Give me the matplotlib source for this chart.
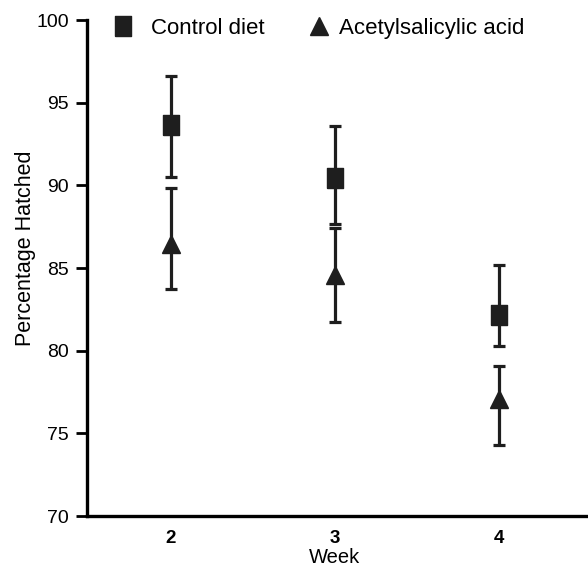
import matplotlib
matplotlib.use("Agg")
import matplotlib.pyplot as plt

plt.rcParams['font.family'] = ['Liberation Sans', 'DejaVu Sans']

# hatch rate by week, mean with lower/upper error
weeks = [2, 3, 4]
control_mean = [93.65, 90.44, 82.18]
control_err_lo = [3.13, 2.80, 1.88]
control_err_hi = [2.98, 3.15, 3.00]
asa_mean = [86.46, 84.57, 77.07]
asa_err_lo = [2.75, 2.82, 2.78]
asa_err_hi = [3.36, 2.83, 2.02]

ink = '#1e1e1e'
rect = [(-0.8, -1), (0.8, -1), (0.8, 1), (-0.8, 1), (-0.8, -1)]

fig = plt.figure(figsize=(5.88, 5.74), dpi=100)
ax = fig.add_axes([0.148, 0.101, 0.852, 0.864])

ax.errorbar(weeks, control_mean, yerr=[control_err_lo, control_err_hi],
            fmt='none', ecolor=ink, elinewidth=2.3, capsize=4, capthick=2.3)
h_ctrl, = ax.plot(weeks, control_mean, linestyle='none', marker=rect,
                  markersize=15, color=ink, label='Control diet')
ax.errorbar(weeks, asa_mean, yerr=[asa_err_lo, asa_err_hi],
            fmt='none', ecolor=ink, elinewidth=2.3, capsize=4, capthick=2.3)
h_asa, = ax.plot(weeks, asa_mean, linestyle='none', marker='^',
                 markersize=12.5, color=ink, label='Acetylsalicylic acid')

ax.set_xlim(1.49, 4.54)
ax.set_ylim(70, 100)
ax.set_yticks([70, 75, 80, 85, 90, 95, 100])
ax.set_xticks(weeks)
ax.set_xticklabels([str(w) for w in weeks], fontweight='bold')

for side in ['top', 'right']:
    ax.spines[side].set_visible(False)
for side in ['left', 'bottom']:
    ax.spines[side].set_linewidth(2.4)
    ax.spines[side].set_color('black')

ax.tick_params(axis='y', length=8, width=2, labelsize=14, pad=5)
ax.tick_params(axis='x', length=0, labelsize=13.5, pad=10)

ax.set_xlabel('Week', fontsize=14.5)
ax.xaxis.set_label_coords(0.494, -0.065)
ax.set_ylabel('Percentage Hatched', fontsize=15.5)
ax.yaxis.set_label_coords(-0.102, 0.54)

# two single-entry legends so each keeps its own spacing
leg1 = ax.legend(handles=[h_ctrl], loc='center left', bbox_to_anchor=(0.024, 0.984),
                 frameon=False, fontsize=16, borderpad=0, handlelength=1.2,
                 handletextpad=0.65, numpoints=1)
ax.add_artist(leg1)
ax.legend(handles=[h_asa], loc='center left', bbox_to_anchor=(0.414, 0.984),
          frameon=False, fontsize=16, borderpad=0, handlelength=1.2,
          handletextpad=0.3, numpoints=1)

fig.savefig('out.png', dpi=100)
